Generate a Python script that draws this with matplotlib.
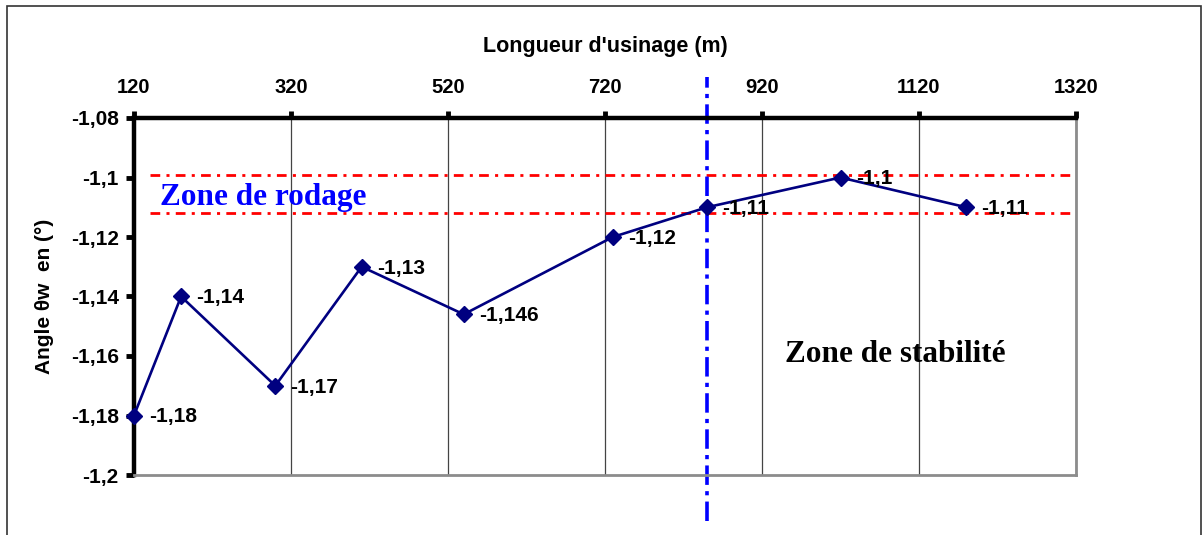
import matplotlib
matplotlib.use("Agg")
import matplotlib.pyplot as plt
from matplotlib.patches import Rectangle

plt.rcParams['font.family'] = ['Liberation Sans', 'DejaVu Sans']
plt.rcParams['lines.scale_dashes'] = False

# Data
longueur = [120, 180, 300, 410, 540, 730, 850, 1020, 1180]
angle = [-1.18, -1.14, -1.17, -1.13, -1.146, -1.12, -1.11, -1.10, -1.11]
labels = ["-1,18", "-1,14", "-1,17", "-1,13", "-1,146", "-1,12", "-1,11", "-1,1", "-1,11"]
x_ticks = [120, 320, 520, 720, 920, 1120, 1320]
y_ticks = [-1.2, -1.18, -1.16, -1.14, -1.12, -1.1, -1.08]
y_ticklabels = ["-1,2", "-1,18", "-1,16", "-1,14", "-1,12", "-1,1", "-1,08"]
zone_lines = [-1.099, -1.112]
transition = 850

W, H = 1203, 535
fig = plt.figure(figsize=(W / 100, H / 100), dpi=100)
ax = fig.add_axes([134 / W, 1 - 475 / H, (1076 - 134) / W, (475 - 118) / H])

# frame of the figure
fig.patches.append(Rectangle((7 / W, -0.05), (1201 - 7) / W, 1.05 - 6 / H,
                             transform=fig.transFigure, fill=False,
                             edgecolor='#333333', linewidth=1.2))

ax.set_xlim(120, 1320)
ax.set_ylim(-1.2, -1.08)

ax.xaxis.tick_top()
ax.xaxis.set_label_position('top')
ax.set_xticks(x_ticks)
ax.set_xticklabels([str(v) for v in x_ticks], fontsize=14.5, fontweight='bold')
ax.set_yticks(y_ticks)
ax.set_yticklabels(y_ticklabels, fontsize=15, fontweight='bold')
ax.tick_params(axis='x', which='major', direction='out', length=5, width=3.5, pad=10, color='black')
ax.tick_params(axis='y', which='major', direction='out', length=6, width=3.5, pad=5, color='black')

ax.set_xlabel("Longueur d'usinage (m)", fontsize=15.5, fontweight='bold', labelpad=19)
ax.set_ylabel("Angle θw  en (°)", fontsize=15, fontweight='bold', labelpad=12)

for s in ['top', 'left']:
    ax.spines[s].set_linewidth(3.2)
    ax.spines[s].set_color('black')
for s in ['bottom', 'right']:
    ax.spines[s].set_linewidth(2.0)
    ax.spines[s].set_color('#8c8c8c')

ax.grid(axis='x', color='#444444', linewidth=0.9)
ax.set_axisbelow(True)

# zone lines
ax.hlines(zone_lines, 140, 1320, colors='#ff0000', linewidth=2.0,
          linestyles=[(0, (7, 4.5, 2.2, 4.5))], zorder=2)
ax.axvline(transition, ymin=-0.129, ymax=1.115, color='#0000ff', linewidth=2.6,
           linestyle=(0, (14, 4.5, 3, 4.5)), clip_on=False, zorder=2)

ax.plot(longueur, angle, color='#000080', linewidth=1.9, marker='D', markersize=8.5,
        zorder=3, clip_on=False)

for x, y, t in zip(longueur, angle, labels):
    ax.annotate(t, (x, y), xytext=(11, -1), textcoords='offset points',
                ha='left', va='center', fontsize=15, fontweight='bold', zorder=4)

ax.text(153, -1.1092, "Zone de rodage", color='#0000ff', fontsize=22.5, fontweight='bold',
        family=['Liberation Serif', 'DejaVu Serif'], va='baseline', ha='left', zorder=4)
ax.text(949, -1.162, "Zone de stabilité", color='black', fontsize=22.5, fontweight='bold',
        family=['Liberation Serif', 'DejaVu Serif'], va='baseline', ha='left', zorder=4)

fig.savefig("out.png", dpi=100)
